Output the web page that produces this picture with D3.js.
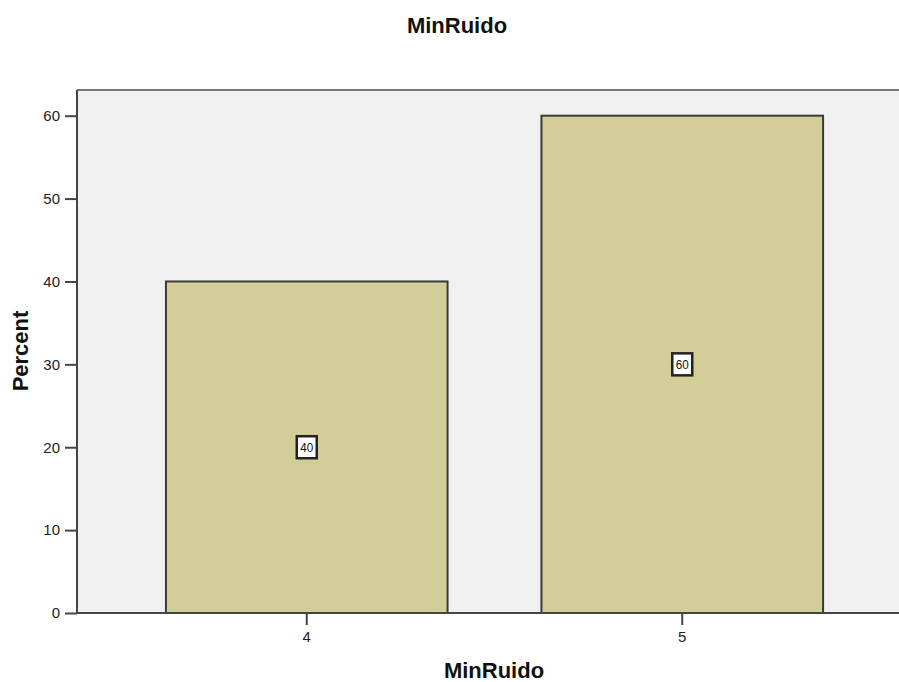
<!DOCTYPE html>
<html><head><meta charset="utf-8">
<script src="https://cdn.jsdelivr.net/npm/d3@7"></script>
<style>body{margin:0;background:#fff}svg{display:block}</style>
</head><body>
<svg id="c" width="899" height="682"></svg>
<script>
const categories = ["4", "5"];
const percents = [40, 60];
const yTicks = [0, 10, 20, 30, 40, 50, 60];
const title = "MinRuido";
const xTitle = "MinRuido";
const yTitle = "Percent";

const svg = d3.select("#c");
const font = "'Liberation Sans', Arial, sans-serif";
const L = 77, T = 90, B = 613, R = 905;

svg.append("rect").attr("x", L).attr("y", T).attr("width", R - L).attr("height", B - T).attr("fill", "#f0f0f0");
svg.append("line").attr("x1", L).attr("x2", R).attr("y1", T).attr("y2", T).attr("stroke", "#777").attr("stroke-width", 2);

const x = d3.scaleBand().domain(categories).range([119, 870]).paddingInner(0.25).paddingOuter(0.125);
const y = d3.scaleLinear().domain([0, 63.1]).range([B, T]);

svg.selectAll(".bar").data(categories).enter().append("rect")
  .attr("x", d => x(d)).attr("width", x.bandwidth())
  .attr("y", (d, i) => y(percents[i])).attr("height", (d, i) => B - y(percents[i]))
  .attr("fill", "#d3ce97").attr("stroke", "#3a3a3a").attr("stroke-width", 2);

// labels
const lg = svg.selectAll(".lab").data(categories).enter().append("g")
  .attr("transform", (d, i) => `translate(${x(d) + x.bandwidth() / 2},${y(percents[i] / 2)})`);
lg.append("rect").attr("x", -10).attr("y", -11).attr("width", 20).attr("height", 22)
  .attr("fill", "#fff").attr("stroke", "#222").attr("stroke-width", 2.5);
lg.append("text").text((d, i) => percents[i]).attr("text-anchor", "middle").attr("dy", "0.36em")
  .attr("font-family", font).attr("font-size", 13).attr("textLength", 13).attr("lengthAdjust", "spacingAndGlyphs").attr("fill", "#111");

// y axis
const ya = svg.append("g").attr("transform", `translate(${L},0)`)
  .call(d3.axisLeft(y).tickValues(yTicks).tickSize(12).tickPadding(5).tickFormat(d3.format("d")));
ya.select(".domain").attr("stroke", "#444").attr("stroke-width", 2).attr("d", `M0,${T}V${B}`);
ya.selectAll(".tick line").attr("stroke", "#444").attr("stroke-width", 2);
ya.selectAll(".tick text").attr("font-family", font).attr("font-size", 15).attr("fill", "#222");

// x axis
const xa = svg.append("g").attr("transform", `translate(0,${B})`)
  .call(d3.axisBottom(x).tickSize(12).tickPadding(6));
xa.select(".domain").attr("stroke", "#444").attr("stroke-width", 2).attr("d", `M${L},0H${R}`);
xa.selectAll(".tick line").attr("stroke", "#444").attr("stroke-width", 2);
xa.selectAll(".tick text").attr("font-family", font).attr("font-size", 15).attr("fill", "#222");

svg.append("text").text(title).attr("x", 457).attr("y", 33).attr("text-anchor", "middle")
  .attr("font-family", font).attr("font-weight", "bold").attr("font-size", 22).attr("fill", "#111");
svg.append("text").text(xTitle).attr("x", 494).attr("y", 678).attr("text-anchor", "middle")
  .attr("font-family", font).attr("font-weight", "bold").attr("font-size", 22).attr("fill", "#111");
svg.append("text").text(yTitle).attr("transform", "translate(28,351) rotate(-90)").attr("text-anchor", "middle")
  .attr("font-family", font).attr("font-weight", "bold").attr("font-size", 22).attr("fill", "#111");
</script>
</body></html>
